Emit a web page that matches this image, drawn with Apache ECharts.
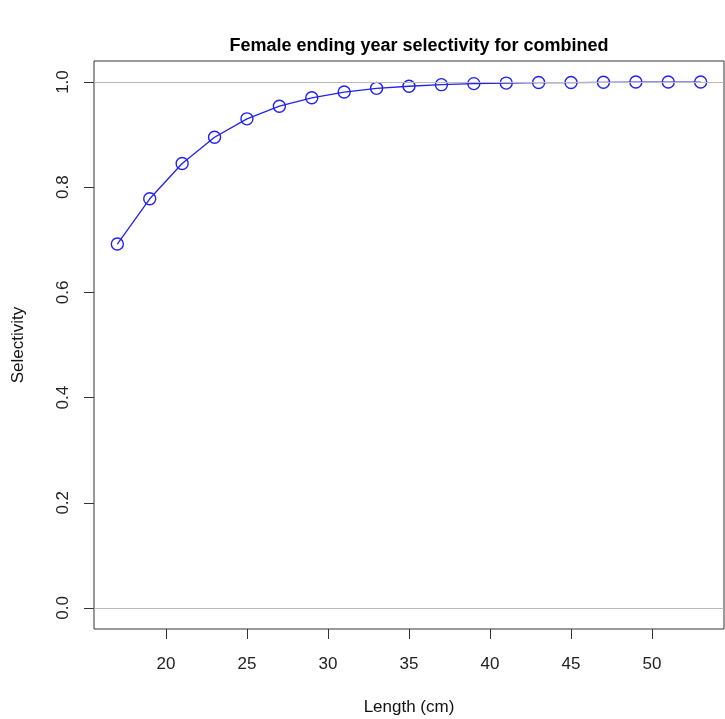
<!DOCTYPE html>
<html>
<head>
<meta charset="utf-8">
<script src="https://cdn.jsdelivr.net/npm/echarts@6/dist/echarts.min.js"></script>
<style>html,body{margin:0;padding:0;background:#fff}#c{width:725px;height:719px}</style>
</head>
<body>
<div id="c"></div>
<script>
const lengths = [17,19,21,23,25,27,29,31,33,35,37,39,41,43,45,47,49,51,53];
const selectivity = [0.692,0.778,0.845,0.895,0.930,0.954,0.970,0.981,0.988,0.992,0.995,0.997,0.998,0.999,0.999,0.9995,1.0,1.0,1.0];
const xTicks = [20,25,30,35,40,45,50];
const yTicks = [0,0.2,0.4,0.6,0.8,1.0];
const refLines = [0,1];

const font = 'Liberation Sans, Arial, sans-serif';
const chart = echarts.init(document.getElementById('c'), null, {renderer:'canvas'});
chart.setOption({
  animation:false,
  backgroundColor:'#fff',
  title:{text:'Female ending year selectivity for combined',left:414,textAlign:'center',top:32,
    textStyle:{fontFamily:font,fontSize:18,fontWeight:'bold',color:'#000'}},
  grid:{left:94,right:1,top:61,bottom:90,outerBoundsMode:'none',containLabel:false,
    show:true,borderColor:'#333',borderWidth:1,backgroundColor:'transparent'},
  xAxis:{type:'value',min:15.56,max:54.44,
    name:'Length (cm)',nameLocation:'middle',nameGap:70,
    nameTextStyle:{fontFamily:font,fontSize:17,color:'#111'},
    axisLine:{show:false,onZero:false},splitLine:{show:false},
    axisTick:{show:true,length:10,customValues:xTicks,lineStyle:{color:'#333'}},
    axisLabel:{customValues:xTicks,margin:27,fontFamily:font,fontSize:17,color:'#222'}},
  yAxis:{type:'value',min:-0.04,max:1.04,
    name:'Selectivity',nameLocation:'middle',nameGap:67,nameRotate:90,
    nameTextStyle:{fontFamily:font,fontSize:17,color:'#111'},
    axisLine:{show:false,onZero:false},splitLine:{show:false},
    axisTick:{show:true,length:10,customValues:yTicks,lineStyle:{color:'#333'}},
    axisLabel:{customValues:yTicks,rotate:90,margin:22,fontFamily:font,fontSize:17,color:'#222',
      formatter:v=>v.toFixed(1)}},
  series:[{
    type:'line',data:lengths.map((x,i)=>[x,selectivity[i]]),
    symbol:'circle',symbolSize:12,
    lineStyle:{color:'#2222ee',width:1.3},
    itemStyle:{color:'rgba(0,0,0,0)',borderColor:'#2222ee',borderWidth:1.4},
    markLine:{silent:true,symbol:'none',label:{show:false},
      lineStyle:{color:'#bbb',type:'solid',width:1.2},
      data:refLines.map(v=>({yAxis:v}))}
  }]
});
</script>
</body>
</html>
